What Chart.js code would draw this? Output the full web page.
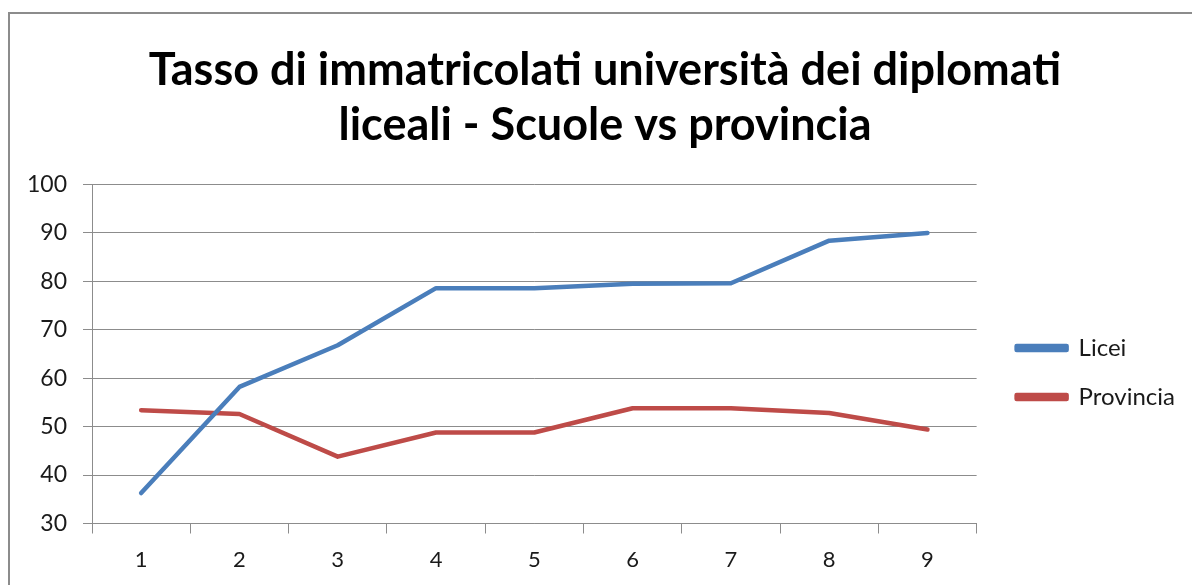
<!DOCTYPE html>
<html>
<head>
<meta charset="utf-8">
<script src="https://cdn.jsdelivr.net/npm/chart.js@4/dist/chart.umd.min.js"></script>
<style>
  html, body { margin: 0; padding: 0; background: #ffffff; overflow: hidden; }
  #wrap { position: relative; width: 1192px; height: 585px; }
  #frame { position: absolute; left: 8px; top: 12px; width: 1400px; height: 800px;
           border-top: 2px solid #8c8c8c; border-left: 2px solid #8c8c8c; pointer-events: none; }
  canvas { position: absolute; left: 0; top: 0; }
</style>
</head>
<body>
<div id="wrap">
  <div id="frame"></div>
  <canvas id="c" width="1192" height="585"></canvas>
</div>
<script>
const titleLines = ['Tasso di immatricolati università dei diplomati', 'liceali - Scuole vs provincia'];
const categories = ['1', '2', '3', '4', '5', '6', '7', '8', '9'];
const seriesNames = ['Licei', 'Provincia'];
const liceiValues = [36.3, 58.2, 66.8, 78.6, 78.6, 79.5, 79.6, 88.4, 90.0];
const provinciaValues = [53.4, 52.6, 43.8, 48.8, 48.8, 53.8, 53.8, 52.8, 49.4];
const yTicks = [30, 40, 50, 60, 70, 80, 90, 100];

const FONT = 'Lato, "Open Sans", sans-serif';
const GRID = '#8c8c8c';

const shiftPlugin = {
  id: 'shiftBoxes',
  afterLayout(chart) {
    const lg = chart.legend;
    if (lg) { lg.left += 15; lg.right += 15; lg.top += 18.5; lg.bottom += 18.5; }
    const t = chart.titleBlock;
    if (t) { t.left += 20; t.right += 20; }
  }
};

new Chart(document.getElementById('c'), {
  type: 'line',
  data: {
    labels: categories,
    datasets: [
      { label: seriesNames[0], data: liceiValues, borderColor: '#4a7ebb', backgroundColor: '#4a7ebb',
        borderWidth: 4.5, pointRadius: 0, tension: 0, borderCapStyle: 'round', borderJoinStyle: 'round' },
      { label: seriesNames[1], data: provinciaValues, borderColor: '#be4b48', backgroundColor: '#be4b48',
        borderWidth: 4.5, pointRadius: 0, tension: 0, borderCapStyle: 'round', borderJoinStyle: 'round' }
    ]
  },
  options: {
    responsive: false,
    animation: false,
    devicePixelRatio: 1,
    layout: { padding: { top: 0, left: 0, right: 22, bottom: 0 } },
    plugins: {
      title: {
        display: true,
        text: titleLines,
        color: '#000000',
        font: { family: FONT, size: 45, weight: '700', lineHeight: '55px' },
        padding: { top: 42.5, bottom: 32 }
      },
      legend: {
        display: true,
        position: 'right',
        fullSize: false,
        labels: {
          color: '#1a1a1a',
          font: { family: FONT, size: 24 },
          boxWidth: 50,
          boxHeight: 4,
          padding: 25
        }
      },
      tooltip: { enabled: false }
    },
    scales: {
      x: {
        type: 'category',
        offset: true,
        grid: { display: true, offset: true, drawOnChartArea: false, drawTicks: true, tickLength: 10, color: GRID, lineWidth: 1 },
        border: { display: true, color: GRID, width: 1 },
        ticks: { color: '#1a1a1a', font: { family: FONT, size: 22 }, padding: 13, maxRotation: 0, autoSkip: false },
        afterFit(s) { s.height = 61.5; }
      },
      y: {
        min: 30, max: 100,
        afterBuildTicks(s) { s.ticks = yTicks.map(v => ({ value: v })); },
        grid: { color: GRID, lineWidth: 1, tickLength: 9, drawTicks: true },
        border: { display: true, color: GRID, width: 1 },
        ticks: { color: '#1a1a1a', font: { family: FONT, size: 23 }, padding: 16 },
        afterFit(s) { s.width = 92; }
      }
    }
  },
  plugins: [shiftPlugin]
});
</script>
</body>
</html>
